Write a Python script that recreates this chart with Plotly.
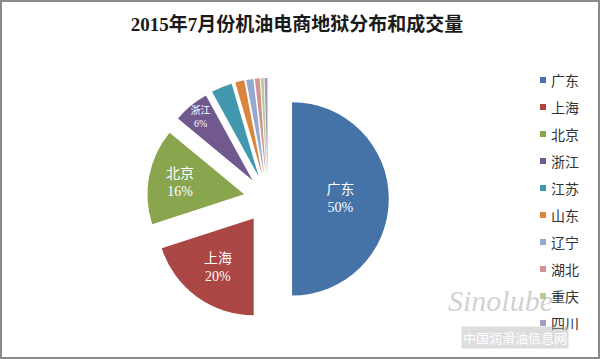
import plotly.graph_objects as go

W, H = 600, 359

regions = ["广东", "上海", "北京", "浙江", "江苏", "山东", "辽宁", "湖北", "重庆", "四川"]
shares = [50, 20, 16, 6, 3.5, 1.5, 1.2, 0.8, 0.5, 0.5]
colors = ["#4572A7", "#AA4643", "#89A54E", "#71588F", "#4198AF",
          "#DB843D", "#93A9CF", "#D19392", "#B9CD96", "#A99BBD"]
title_text = "2015年7月份机油电商地狱分布和成交量"

label_min = 5
templates = ["%{label}<br>%{percent:.0%}" if v >= label_min else "" for v in shares]

fig = go.Figure()
fig.add_trace(go.Pie(
    labels=regions,
    values=shares,
    sort=False,
    direction="clockwise",
    rotation=0,
    pull=[0.25] * len(shares),
    marker=dict(colors=colors, line=dict(width=0)),
    texttemplate=templates,
    textposition="inside",
    insidetextorientation="horizontal",
    textfont=dict(color="white", size=14, family="Liberation Serif, Noto Sans CJK SC"),
    domain=dict(x=[0.245, 0.648], y=[0.109, 0.783]),
    showlegend=False,
    hoverinfo="label+percent",
))

# custom legend on the right
shapes = []
annotations = []
y0, step = 80, 27
for i, (name, c) in enumerate(zip(regions, colors)):
    yc = y0 + i * step
    shapes.append(dict(type="rect", xref="paper", yref="paper",
                       x0=540 / W, x1=546 / W, y0=1 - (yc + 3) / H, y1=1 - (yc - 3) / H,
                       fillcolor=c, line=dict(width=0)))
    annotations.append(dict(x=549 / W, y=1 - yc / H, xref="paper", yref="paper",
                            text=name, showarrow=False, xanchor="left", yanchor="middle",
                            font=dict(size=14, color="#333333", family="Noto Sans CJK SC")))

# watermark
annotations.append(dict(x=515 / W, y=1 - 337 / H, xref="paper", yref="paper",
                        text="中国润滑油信息网", showarrow=False, xanchor="center", yanchor="middle",
                        bgcolor="rgba(180,180,180,0.45)",
                        font=dict(size=13, color="white", family="Noto Sans CJK SC")))
annotations.append(dict(x=500 / W, y=1 - 300 / H, xref="paper", yref="paper",
                        text="<i>Sinolube</i>", showarrow=False, xanchor="center", yanchor="middle",
                        font=dict(size=30, color="rgba(150,150,150,0.45)", family="Liberation Serif")))

# outer border
shapes.append(dict(type="rect", xref="paper", yref="paper", x0=1 / W, x1=1 - 1 / W,
                   y0=1 / H, y1=1 - 1 / H, line=dict(color="#8a8a8a", width=2)))

fig.update_layout(
    width=W, height=H,
    margin=dict(l=0, r=0, t=0, b=0),
    paper_bgcolor="white",
    title=dict(text=title_text, x=297 / W, xanchor="center", y=1 - 24 / H, yanchor="middle",
               font=dict(size=19, color="#1a1a1a", family="Liberation Serif, Noto Sans CJK SC", weight="bold")),
    shapes=shapes,
    annotations=annotations,
)

fig.write_html("out.html")
